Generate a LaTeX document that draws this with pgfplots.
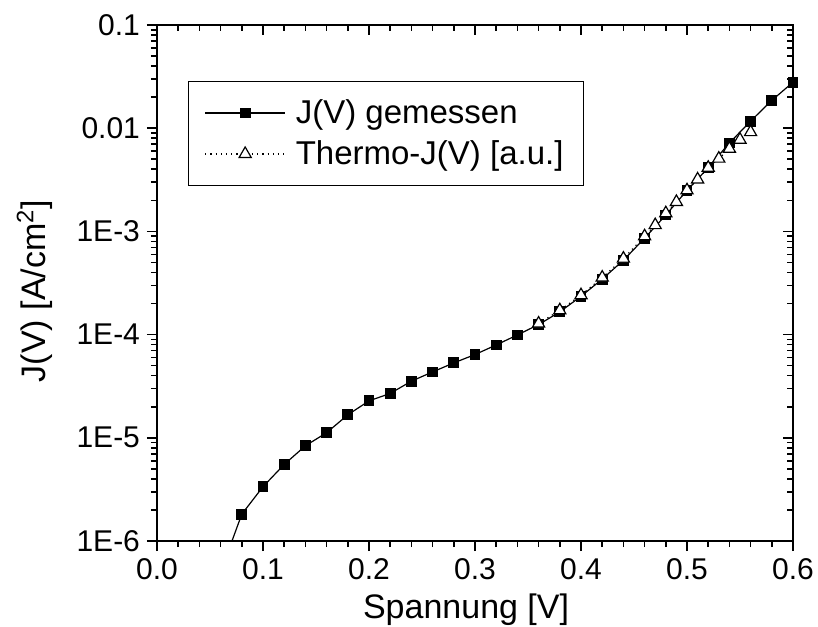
\documentclass[border=0pt]{standalone}
\usepackage{fontspec}
\setmainfont{Liberation Sans}
\usepackage{pgfplots}
\pgfplotsset{compat=1.18}
\pgfplotsset{
  myaxis/.style={
    scale only axis, width=318pt, height=258pt,
    xmin=0, xmax=0.6, ymin=1e-6, ymax=0.1,
    xtick={0,0.1,0.2,0.3,0.4,0.5,0.6}, minor x tick num=4,
    ytick={1e-6,1e-5,1e-4,1e-3,1e-2,1e-1},
    minor ytick={2e-6,3e-6,4e-6,5e-6,6e-6,7e-6,8e-6,9e-6,
                 2e-5,3e-5,4e-5,5e-5,6e-5,7e-5,8e-5,9e-5,
                 2e-4,3e-4,4e-4,5e-4,6e-4,7e-4,8e-4,9e-4,
                 2e-3,3e-3,4e-3,5e-3,6e-3,7e-3,8e-3,9e-3,
                 2e-2,3e-2,4e-2,5e-2,6e-2,7e-2,8e-2,9e-2},
    axis line style={line width=1pt},
    every tick/.style={black, line width=0.8pt},
    major tick length=5pt, minor tick length=3pt,
    tick label style={font=\fontsize{15}{18}\selectfont},
  }
}
\begin{document}
\begin{tikzpicture}
\begin{semilogyaxis}[myaxis, xtick pos=right, ytick pos=right, tick align=inside,
  xticklabels={}, yticklabels={}]
\end{semilogyaxis}
\begin{semilogyaxis}[myaxis, xtick pos=left, ytick pos=left, tick align=outside,
  clip mode=individual,
  xticklabels={0.0,0.1,0.2,0.3,0.4,0.5,0.6},
  yticklabels={1E-6,1E-5,1E-4,1E-3,0.01,0.1},
  xlabel={Spannung [V]},
  ylabel={J(V) [A/cm\textsuperscript{2}]},
  label style={font=\fontsize{17}{20}\selectfont},
  xlabel style={at={(axis description cs:0.486,-0.0891)}, anchor=north},
  ylabel style={at={(axis description cs:-0.1525,0.4845)}, anchor=south},
  legend style={at={(axis description cs:0.0487,0.8915)}, anchor=north west,
    draw=black, line width=0.6pt, inner xsep=8pt, inner ysep=7pt,
    font=\fontsize{16.5}{20}\selectfont, row sep=3pt},
  legend cell align=left,
  legend image code/.code={\draw[mark repeat=2,mark phase=2] plot coordinates {(0pt,0pt) (20pt,0pt) (40pt,0pt)};\path (43pt,0pt);},
]
% line segment below the first visible point
\addplot[black, line width=0.6pt, forget plot] coordinates {(0.06,5e-7) (0.08,1.82e-6)};
\addplot[black, line width=0.6pt, mark=square*, mark size=2.4pt, mark options={fill=black}] coordinates {
(0.08,1.82e-6) (0.10,3.36e-6) (0.12,5.52e-6) (0.14,8.37e-6) (0.16,1.12e-5)
(0.18,1.67e-5) (0.20,2.28e-5) (0.22,2.69e-5) (0.24,3.54e-5) (0.26,4.35e-5)
(0.28,5.32e-5) (0.30,6.41e-5) (0.32,7.94e-5) (0.34,9.93e-5) (0.36,1.25e-4)
(0.38,1.66e-4) (0.40,2.35e-4) (0.42,3.45e-4) (0.44,5.25e-4) (0.46,8.6e-4)
(0.48,1.44e-3) (0.50,2.5e-3) (0.52,4.14e-3) (0.54,7.2e-3) (0.56,0.0117)
(0.58,0.0186) (0.60,0.0279)};
\addlegendentry{J(V) gemessen}
\addplot[black, line width=0.6pt, dotted, mark=triangle*, mark size=3.5pt, mark options={solid, fill=white}] coordinates {
(0.36,1.28e-4) (0.38,1.72e-4) (0.40,2.41e-4) (0.42,3.57e-4) (0.44,5.45e-4)
(0.46,8.97e-4) (0.47,1.15e-3) (0.48,1.50e-3) (0.49,1.93e-3) (0.50,2.50e-3)
(0.51,3.19e-3) (0.52,4.14e-3) (0.53,5.07e-3) (0.54,6.33e-3) (0.55,7.74e-3)
(0.56,9.16e-3)};
\addlegendentry{Thermo-J(V) [a.u.]}
\end{semilogyaxis}
\pgfresetboundingbox
\path ([shift={(-78.5pt,-42.5pt)}]current axis.south west) rectangle ([shift={(12.5pt,12.5pt)}]current axis.north east);
\end{tikzpicture}
\end{document}
